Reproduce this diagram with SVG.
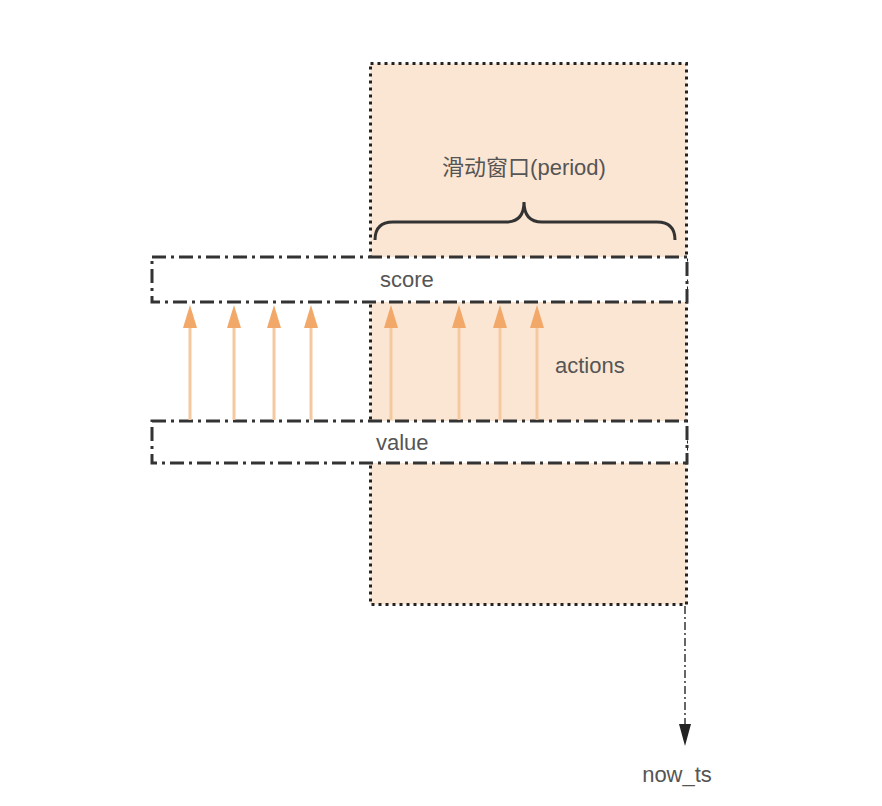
<svg xmlns="http://www.w3.org/2000/svg" width="882" height="806" viewBox="0 0 882 806">
<defs>
<style>
.lbl{font-family:"Liberation Sans","Noto Sans CJK SC",sans-serif;fill:#555;font-size:22px;}
.box{fill:#fff;stroke:#333;stroke-width:3;stroke-dasharray:14 5 3 5;}
.act{stroke:#f4c9a0;stroke-width:3;fill:none;}
.head{fill:#f2a868;}
</style>
</defs>
<rect width="882" height="806" fill="#fff"/>
<g id="window">
<rect x="370.5" y="63.5" width="316" height="541" fill="#fbe6d3" stroke="#222" stroke-width="3" stroke-dasharray="3 4"/>
<text class="lbl" x="524" y="175" text-anchor="middle">滑动窗口(period)</text>
<path d="M375,240 Q375,222 393,222 L506,222 Q524,222 524,202 Q524,222 542,222 L657,222 Q675,222 675,240" fill="none" stroke="#333" stroke-width="3"/>
</g>
<g id="score">
<rect class="box" x="152" y="257" width="535" height="45"/>
<text class="lbl" x="380" y="287">score</text>
</g>
<g id="value">
<rect class="box" x="152" y="421" width="535" height="42"/>
<text class="lbl" x="376" y="450">value</text>
</g>
<g id="connectors">
<g class="act">
<line x1="190" y1="420" x2="190" y2="326"/>
<line x1="234" y1="420" x2="234" y2="326"/>
<line x1="274" y1="420" x2="274" y2="326"/>
<line x1="311" y1="420" x2="311" y2="326"/>
<line x1="391" y1="420" x2="391" y2="326"/>
<line x1="459" y1="420" x2="459" y2="326"/>
<line x1="500" y1="420" x2="500" y2="326"/>
<line x1="537" y1="420" x2="537" y2="326"/>
</g>
<g class="head">
<path d="M190,305 L183,328 L197,328 Z"/>
<path d="M234,305 L227,328 L241,328 Z"/>
<path d="M274,305 L267,328 L281,328 Z"/>
<path d="M311,305 L304,328 L318,328 Z"/>
<path d="M391,305 L384,328 L398,328 Z"/>
<path d="M459,305 L452,328 L466,328 Z"/>
<path d="M500,305 L493,328 L507,328 Z"/>
<path d="M537,305 L530,328 L544,328 Z"/>
</g>
<line x1="685" y1="606" x2="685" y2="728" stroke="#666" stroke-width="2" stroke-dasharray="8 3 2 3"/>
<path d="M679,724 L691,724 L685,746 Z" fill="#222"/>
</g>
<text class="lbl" x="555" y="373">actions</text>
<text class="lbl" x="677" y="782" text-anchor="middle">now_ts</text>
</svg>
